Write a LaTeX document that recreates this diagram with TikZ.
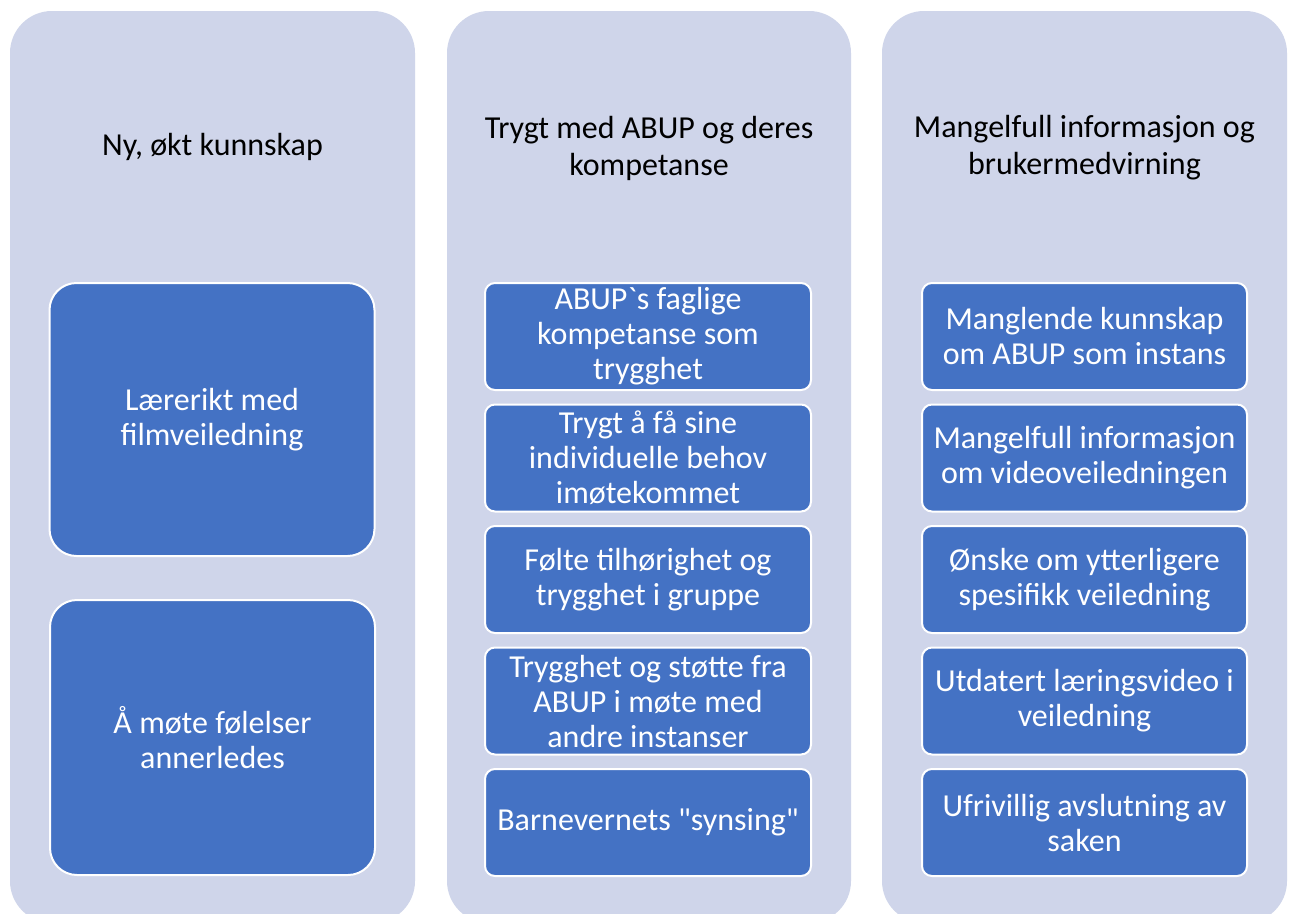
\documentclass[tikz,border=0pt]{standalone}
\usepackage{fontspec}
\setmainfont{Carlito}[Ligatures=TeXOff]
\usetikzlibrary{calc}
\definecolor{lavender}{HTML}{CFD5EA}
\definecolor{cardblue}{HTML}{4472C4}
\tikzset{
  column/.style={fill=lavender, rounded corners=42pt, minimum height=912pt, inner sep=0pt},
  heading/.style={align=center, text=black, font=\fontsize{32}{37}\selectfont},
  card/.style={fill=cardblue, draw=white, line width=2pt, rounded corners=10pt, text=white,
    align=center, minimum width=326pt, minimum height=107pt, inner sep=0pt,
    font=\fontsize{32}{35}\selectfont},
  bigcard/.style={card, rounded corners=27pt, minimum width=325pt}
}

\begin{document}
\begin{tikzpicture}[x=1pt,y=-1pt]
    \fill[white] (0,0) rectangle (1290,913);
    \useasboundingbox (0,0) rectangle (1290,913);
    % three columns
    \node[column, minimum width=405pt] (col1) at (212.5,467) {};
    \node[column, minimum width=404pt] (col2) at (649,467) {};
    \node[column, minimum width=405pt] (col3) at (1084.5,467) {};
    \node[heading] (head1) at (212.5,147) {Ny, økt kunnskap};
    \node[heading] (head2) at (649,148) {Trygt med ABUP og deres\\kompetanse};
    \node[heading] (head3) at (1084.5,148) {Mangelfull informasjon og\\brukermedvirning};
    % first column
    \node[bigcard, minimum height=273pt] (laer) at (212,419.5) {Lærerikt med\\filmveiledning};
    \node[bigcard, minimum height=275pt] (fole) at (212.5,737.5) {Å møte følelser\\annerledes};
    % second column
    \foreach \txt [count=\i] in {{ABUP\textasciigrave s faglige\\kompetanse som\\trygghet},
        {Trygt å få sine\\individuelle behov\\imøtekommet},
        {Følte tilhørighet og\\trygghet i gruppe},
        {Trygghet og støtte fra\\ABUP i møte med\\andre instanser},
        {Barnevernets "synsing"}}
        \node[card] (trygg-\i) at (648,{336.5+(\i-1)*121.5}) {\txt};
    % third column
    \foreach \txt [count=\i] in {{Manglende kunnskap\\om ABUP som instans},
        {Mangelfull informasjon\\om videoveiledningen},
        {Ønske om ytterligere\\spesifikk veiledning},
        {Utdatert læringsvideo i\\veiledning},
        {Ufrivillig avslutning av\\saken}}
        \node[card, minimum width=325pt] (mangel-\i) at (1084.5,{336.5+(\i-1)*121.5}) {\txt};
\end{tikzpicture}
\end{document}
